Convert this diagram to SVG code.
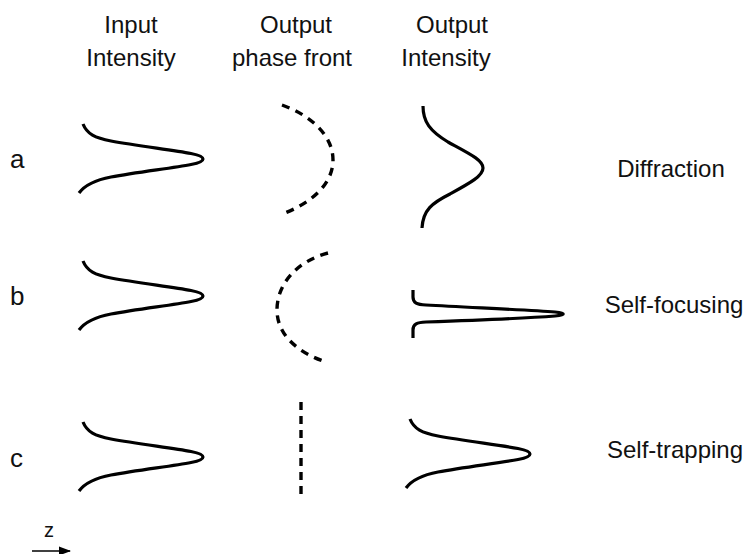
<svg xmlns="http://www.w3.org/2000/svg" width="750" height="554" viewBox="0 0 750 554">
<defs>
<style>
text{font-family:"Liberation Sans",Arial,sans-serif;font-size:24px;fill:#111}
.c{text-anchor:middle}
.lbl{font-size:26px}
.curve{fill:none;stroke:#000;stroke-width:3.2;stroke-linecap:butt;stroke-linejoin:round}
.dash{fill:none;stroke:#000;stroke-width:3.4;stroke-dasharray:8 6}
</style>
<path id="gauss" d="M0,0 C4,10 12,14 28,17 C55,22 90,26 108,29.5 C124,32.5 124,37.5 108,40.5 C90,44 55,48 28,53 C12,56 2,61 -4,69"/>
<marker id="arr" markerWidth="12" markerHeight="10" refX="11" refY="5" orient="auto" markerUnits="userSpaceOnUse">
<path d="M0,0.5 L12,5 L0,9.5 z" fill="#000"/>
</marker>
</defs>
<rect width="750" height="554" fill="#fff"/>
<g id="headers">
<text class="c" x="131" y="33">Input</text>
<text class="c" x="131" y="66">Intensity</text>
<text class="c" x="296" y="33">Output</text>
<text class="c" x="292" y="66">phase front</text>
<text class="c" x="452" y="33">Output</text>
<text class="c" x="446" y="66">Intensity</text>
</g>
<g id="row-labels">
<text class="lbl" x="10" y="168">a</text>
<text class="lbl" x="10" y="305">b</text>
<text class="lbl" x="10" y="467">c</text>
</g>
<g id="effect-labels">
<text class="c" x="671" y="177">Diffraction</text>
<text class="c" x="674" y="313">Self-focusing</text>
<text class="c" x="675" y="458">Self-trapping</text>
</g>
<g id="row-a">
<use href="#gauss" class="curve" x="83" y="124"/>
<path class="dash" style="stroke-dasharray:8 6.6" d="M282,105 C310,115 333,135 333,160 C333,185 310,203 285,213"/>
<path class="curve" d="M423,106 C423,122 430,131 448,142 C470,154 483,160 483,168 C483,176 470,183 450,194 C432,203 423,210 422,228"/>
</g>
<g id="row-b">
<use href="#gauss" class="curve" x="83" y="261"/>
<path class="dash" style="stroke-dasharray:8 6.6" d="M328,253 C298,261 277,283 277,310 C277,335 298,352 323,361"/>
<path class="curve" d="M413,290 L413,297 C413,303 417,304.5 426,305 C470,307.5 530,310 555,312 C566,313 566,315 555,316 C530,318 470,320.5 426,322 C417,322.5 413,324 413,330 L413,338"/>
</g>
<g id="row-c">
<use href="#gauss" class="curve" x="83" y="422"/>
<path class="dash" d="M301,402 L301,500"/>
<use href="#gauss" class="curve" x="410" y="419"/>
</g>
<g id="z-axis">
<text x="44" y="537" style="font-size:20px">z</text>
<line x1="32" y1="551" x2="70" y2="551" stroke="#000" stroke-width="1.5" marker-end="url(#arr)"/>
</g>
</svg>
